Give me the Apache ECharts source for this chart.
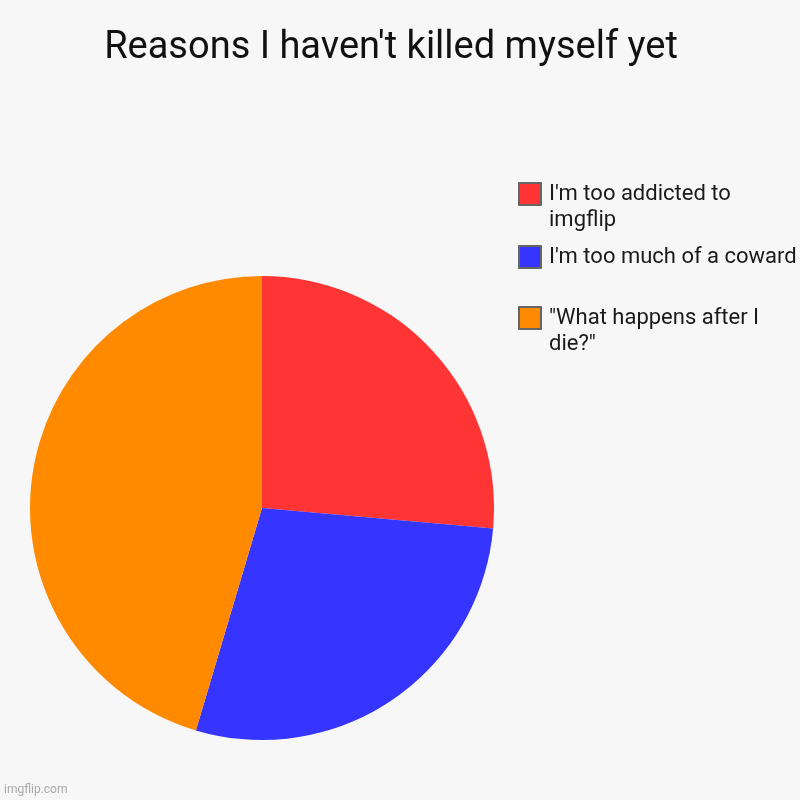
<!DOCTYPE html>
<html><head><meta charset="utf-8">
<script src="https://cdn.jsdelivr.net/npm/echarts@6/dist/echarts.min.js"></script>
<style>html,body{margin:0;padding:0;background:#f7f7f7}#c{width:800px;height:800px}</style>
</head><body><div id="c"></div>
<script>
const categories = ["I'm too addicted to imgflip", "I'm too much of a coward", "\"What happens after I die?\""];
const legendLabels = ["I'm too addicted to\nimgflip", "I'm too much of a coward", "\"What happens after I\ndie?\""];
const values = [26.4, 28.2, 45.4];
const colors = ['#ff3535', '#3535ff', '#ff8a00'];
const legendCenters = [194, 257, 318];

const chart = echarts.init(document.getElementById('c'));
const legends = categories.map((name, i) => {
  const twoLine = legendLabels[i].includes('\n');
  return {
    orient: 'vertical',
    left: 518,
    top: legendCenters[i] - (twoLine ? 39 : 13),
    padding: 0,
    itemWidth: 22, itemHeight: 22, itemGap: 10,
    icon: 'rect',
    selectedMode: false,
    itemStyle: { borderColor: '#666', borderWidth: 2 },
    formatter: () => (twoLine ? '\n' : '') + legendLabels[i],
    textStyle: {
      fontFamily: 'Roboto', fontSize: 22, color: '#1a1a1a', lineHeight: 26,
      padding: [0, 0, 0, 3]
    },
    data: [name]
  };
});
chart.setOption({
  backgroundColor: '#f7f7f7',
  title: {
    text: "Reasons I haven't killed myself yet",
    left: 386, top: 24, textAlign: 'center',
    textStyle: { fontFamily: 'Roboto', fontSize: 38, fontWeight: 'normal', color: '#111' }
  },
  graphic: [{ type: 'text', left: 4, top: 784, style: { text: 'imgflip.com', fill: '#aaa', font: '12px Roboto' } }],
  legend: legends,
  series: [{
    type: 'pie',
    center: [262, 508],
    radius: 232,
    startAngle: 90,
    clockwise: true,
    label: { show: false },
    labelLine: { show: false },
    emphasis: { disabled: true },
    animation: false,
    data: categories.map((n, i) => ({ name: n, value: values[i], itemStyle: { color: colors[i] } }))
  }]
});
</script></body></html>
